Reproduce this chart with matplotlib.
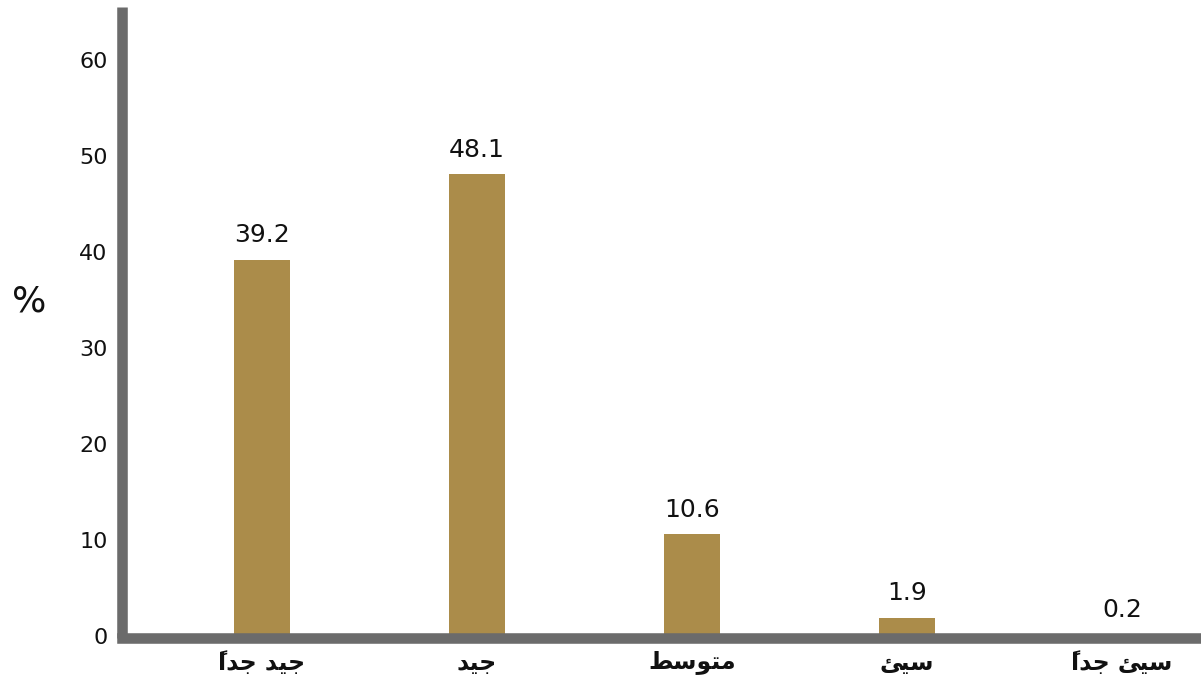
import numpy as np
import matplotlib.pyplot as plt

# Arabic labels written in presentation forms, visual (left-to-right) order,
# since matplotlib does no Arabic shaping on its own
categories = [
    "\u064B\uFE8D\uFEAA\uFE9F \uFEAA\uFEF4\uFE9F",   # جيد جداً
    "\uFEAA\uFEF4\uFE9F",                            # جيد
    "\uFEC2\uFEB3\uFEEE\uFE98\uFEE3",                # متوسط
    "\uFE8A\uFEF4\uFEB3",                            # سيئ
    "\u064B\uFE8D\uFEAA\uFE9F \uFE8A\uFEF4\uFEB3",   # سيئ جداً
]
values = [39.2, 48.1, 10.6, 1.9, 0.2]
yticks = [0, 10, 20, 30, 40, 50, 60]

bar_color = '#AB8C4A'
axis_color = '#6B6B6B'
text_color = '#111111'

W, H = 1201, 689
fig = plt.figure(figsize=(W / 100, H / 100), dpi=100)
# axes box in pixels: left 121.5, bottom 638, top 7
ax = fig.add_axes([121.5 / W, (H - 638) / H, 1 - 121.5 / W, 631 / H])

x = np.arange(len(values))
ax.bar(x, values, width=0.257, color=bar_color, zorder=1)

for xi, v in zip(x, values):
    ax.annotate('%.1f' % v, (xi, v), xytext=(0, 9), textcoords='offset points',
                ha='center', va='bottom', fontsize=18, family='DejaVu Sans',
                color=text_color)

ax.set_xlim(-0.653, 4.367)
ax.set_ylim(-0.2, 65.53)
ax.set_yticks(yticks)
ax.set_yticklabels([str(t) for t in yticks], family='DejaVu Sans', fontsize=16)
ax.set_xticks(x)
ax.set_xticklabels(categories, family='DejaVu Sans', fontweight='bold', fontsize=17)
ax.tick_params(axis='y', length=0, pad=10, colors=text_color)
ax.tick_params(axis='x', length=0, pad=9, colors=text_color)

for side in ['top', 'right']:
    ax.spines[side].set_visible(False)
for side in ['left', 'bottom']:
    ax.spines[side].set_color(axis_color)
    ax.spines[side].set_linewidth(7.6)
    ax.spines[side].set_zorder(3)
ax.spines['left'].set_capstyle('butt')
ax.spines['bottom'].set_capstyle('projecting')

ax.set_ylabel('%', fontsize=26, rotation=0, family='DejaVu Sans', color=text_color,
              ha='center', va='center')
ax.yaxis.set_label_coords(-0.0852, 0.534)

fig.savefig('out.png', dpi=100)
